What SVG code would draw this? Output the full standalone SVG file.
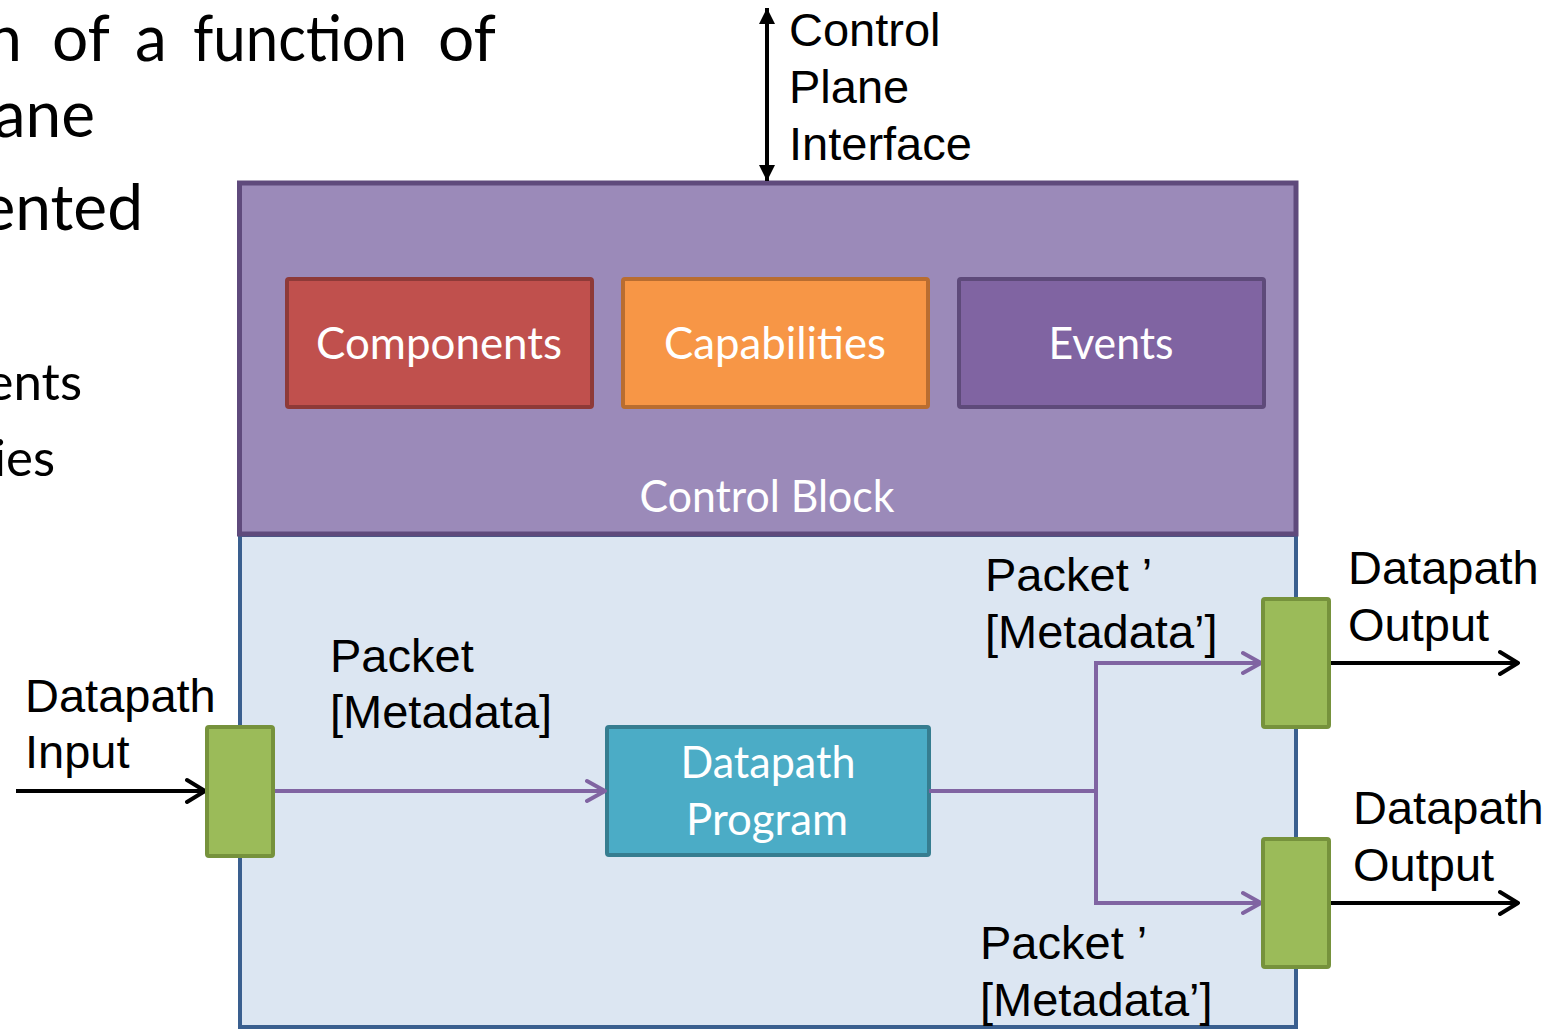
<svg xmlns="http://www.w3.org/2000/svg" width="1564" height="1029" viewBox="0 0 1564 1029">
  <style>
    .slide { font-family: Lato, "Open Sans", sans-serif; fill: #000; }
    .lbl { font-family: "Liberation Sans", Arial, sans-serif; font-size: 47px; fill: #000; }
    .boxtxt { font-family: Lato, "Open Sans", sans-serif; font-size: 44px; fill: #fff; text-anchor: middle; }
    .flow { fill: none; stroke: #8064A2; stroke-width: 4; }
    .ext { fill: none; stroke: #000; stroke-width: 4; }
    .port { fill: #9BBB59; stroke: #76923C; stroke-width: 4; }
  </style>
  <defs>
    <marker id="chevPurple" viewBox="0 0 22 26" refX="20" refY="13" markerWidth="22" markerHeight="26" markerUnits="userSpaceOnUse" orient="auto">
      <path d="M2,3 L20,13 L2,23" fill="none" stroke="#8064A2" stroke-width="4" stroke-linecap="round" stroke-linejoin="round"/>
    </marker>
    <marker id="chevBlack" viewBox="0 0 22 28" refX="20" refY="14" markerWidth="22" markerHeight="28" markerUnits="userSpaceOnUse" orient="auto">
      <path d="M2,3 L20,14 L2,25" fill="none" stroke="#000" stroke-width="4" stroke-linecap="round" stroke-linejoin="round"/>
    </marker>
    <marker id="triBlack" viewBox="0 0 16 16" refX="16" refY="8" markerWidth="16" markerHeight="16" markerUnits="userSpaceOnUse" orient="auto-start-reverse">
      <path d="M0,0 L16,8 L0,16 Z" fill="#000"/>
    </marker>
  </defs>

  <!-- surrounding slide bullet text, cut off at the left edge -->
  <g id="slide-text" class="slide">
    <text x="22" y="61" font-size="64" text-anchor="end">n</text>
    <text x="52" y="61" font-size="64">of</text>
    <text x="135" y="61" font-size="64">a</text>
    <text x="193" y="61" font-size="64" textLength="214" lengthAdjust="spacingAndGlyphs">function</text>
    <text x="438" y="61" font-size="64">of</text>
    <text x="95" y="137" font-size="64" text-anchor="end">ane</text>
    <text x="143" y="230" font-size="64" text-anchor="end">ented</text>
    <text x="82" y="400" font-size="51" text-anchor="end">ents</text>
    <text x="55" y="476" font-size="51" text-anchor="end">ies</text>
  </g>

  <!-- datapath area -->
  <g id="datapath-area">
    <rect x="240" y="535" width="1056" height="492" fill="#DCE6F2" stroke="#3A5F8F" stroke-width="4"/>
  </g>

  <!-- control block -->
  <g id="control-block">
    <rect x="239.5" y="183" width="1056.5" height="351" fill="#9B8AB9" stroke="#5F4A7C" stroke-width="5"/>
    <text class="boxtxt" x="767" y="512" textLength="255" lengthAdjust="spacingAndGlyphs">Control Block</text>
  </g>

  <g id="components">
    <rect x="287" y="279" width="305" height="128" rx="2" fill="#C0504D" stroke="#8E3A38" stroke-width="4"/>
    <text class="boxtxt" x="439" y="359" textLength="246" lengthAdjust="spacingAndGlyphs">Components</text>
  </g>
  <g id="capabilities">
    <rect x="623" y="279" width="305" height="128" rx="2" fill="#F79646" stroke="#B96D30" stroke-width="4"/>
    <text class="boxtxt" x="775" y="359" textLength="222" lengthAdjust="spacingAndGlyphs">Capabilities</text>
  </g>
  <g id="events">
    <rect x="959" y="279" width="305" height="128" rx="2" fill="#8064A2" stroke="#5E4A7A" stroke-width="4"/>
    <text class="boxtxt" x="1111" y="359" textLength="125" lengthAdjust="spacingAndGlyphs">Events</text>
  </g>

  <g id="datapath-program">
    <rect x="607" y="727" width="322" height="128" rx="2" fill="#4BACC6" stroke="#367D90" stroke-width="4"/>
    <text class="boxtxt" x="768" y="778" textLength="175" lengthAdjust="spacingAndGlyphs">Datapath</text>
    <text class="boxtxt" x="767" y="835" textLength="162" lengthAdjust="spacingAndGlyphs">Program</text>
  </g>

  <!-- connectors -->
  <g id="connectors">
    <line class="ext" x1="767" y1="8" x2="767" y2="181" marker-start="url(#triBlack)" marker-end="url(#triBlack)"/>
    <line class="ext" x1="16" y1="791" x2="205" y2="791" marker-end="url(#chevBlack)"/>
    <polyline class="flow" points="273,791 605,791" marker-end="url(#chevPurple)"/>
    <polyline class="flow" points="929,791 1096,791"/>
    <polyline class="flow" points="1096,791 1096,663 1261,663" marker-end="url(#chevPurple)"/>
    <polyline class="flow" points="1096,791 1096,903 1261,903" marker-end="url(#chevPurple)"/>
    <line class="ext" x1="1329" y1="663" x2="1518" y2="663" marker-end="url(#chevBlack)"/>
    <line class="ext" x1="1329" y1="903" x2="1518" y2="903" marker-end="url(#chevBlack)"/>
  </g>

  <!-- ports -->
  <g id="input-port"><rect class="port" x="207" y="727" width="66" height="129" rx="2"/></g>
  <g id="output-port-1"><rect class="port" x="1263" y="599" width="66" height="128" rx="2"/></g>
  <g id="output-port-2"><rect class="port" x="1263" y="839" width="66" height="128" rx="2"/></g>

  <!-- labels -->
  <g id="label-control-plane" class="lbl">
    <text x="789" y="46">Control</text>
    <text x="789" y="103">Plane</text>
    <text x="789" y="160">Interface</text>
  </g>
  <g id="label-input" class="lbl">
    <text x="25" y="712">Datapath</text>
    <text x="25" y="768">Input</text>
  </g>
  <g id="label-packet-in" class="lbl">
    <text x="330" y="672">Packet</text>
    <text x="330" y="728">[Metadata]</text>
  </g>
  <g id="label-packet-out-1" class="lbl">
    <text x="985" y="591">Packet ’</text>
    <text x="985" y="648">[Metadata’]</text>
  </g>
  <g id="label-output-1" class="lbl">
    <text x="1348" y="584">Datapath</text>
    <text x="1348" y="641">Output</text>
  </g>
  <g id="label-packet-out-2" class="lbl">
    <text x="980" y="959">Packet ’</text>
    <text x="980" y="1016">[Metadata’]</text>
  </g>
  <g id="label-output-2" class="lbl">
    <text x="1353" y="824">Datapath</text>
    <text x="1353" y="881">Output</text>
  </g>
</svg>
